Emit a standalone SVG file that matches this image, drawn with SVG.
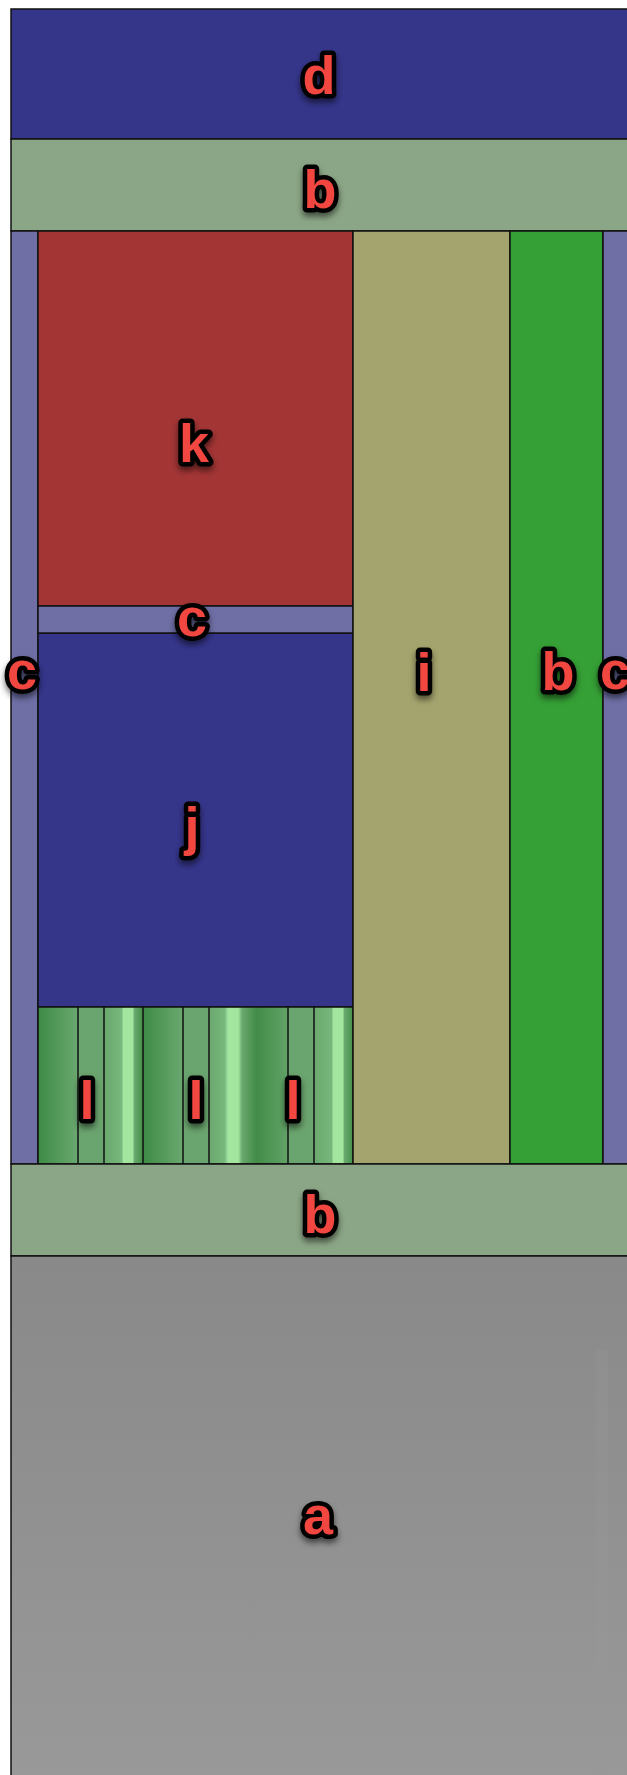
<svg xmlns="http://www.w3.org/2000/svg" width="627" height="1775" viewBox="0 0 627 1775">
<style>
.lbl{font-family:"Liberation Sans",Arial,sans-serif;font-weight:bold;font-size:54px;fill:#f2463f;stroke:#000;stroke-width:9;stroke-linejoin:round;paint-order:stroke;text-anchor:middle;filter:url(#sh)}
.bd{stroke:#111;stroke-width:1.5}
</style>
<defs>
<filter id="sh" x="-50%" y="-50%" width="200%" height="200%"><feDropShadow dx="0" dy="4" stdDeviation="3" flood-color="#000" flood-opacity="0.55"/></filter>
<linearGradient id="ga" x1="0" y1="0" x2="0" y2="1"><stop offset="0" stop-color="#898989"/><stop offset="1" stop-color="#999999"/></linearGradient>
<linearGradient id="gdark" x1="0" y1="0" x2="1" y2="0"><stop offset="0" stop-color="#3e8a45"/><stop offset="0.3" stop-color="#4b9452"/><stop offset="1" stop-color="#6aa870"/></linearGradient>
<linearGradient id="glight" x1="0" y1="0" x2="1" y2="0"><stop offset="0" stop-color="#6aa86e"/><stop offset="0.45" stop-color="#78b87c"/><stop offset="0.5" stop-color="#a2e6a0"/><stop offset="0.74" stop-color="#a2e6a0"/><stop offset="0.78" stop-color="#6aa86e"/><stop offset="1" stop-color="#44904a"/></linearGradient>
<linearGradient id="gmid" x1="0" y1="0" x2="1" y2="0"><stop offset="0" stop-color="#6aa86e"/><stop offset="0.2" stop-color="#78b87c"/><stop offset="0.24" stop-color="#a2e6a0"/><stop offset="0.37" stop-color="#a2e6a0"/><stop offset="0.42" stop-color="#6aa86e"/><stop offset="0.6" stop-color="#428c48"/><stop offset="1" stop-color="#62a268"/></linearGradient>
</defs>
<rect width="627" height="1775" fill="#fff"/>
<g id="d"><rect x="11" y="9" width="620" height="130" fill="#35358a" class="bd"/><text class="lbl" x="319" y="94">d</text></g>
<g id="b-top"><rect x="11" y="139" width="620" height="92" fill="#8ba686" class="bd"/><text class="lbl" x="320" y="208">b</text></g>
<g id="c-left"><rect x="11" y="231" width="27" height="933" fill="#6f6fa6" class="bd"/></g>
<g id="k"><rect x="38" y="231" width="315" height="375" fill="#a33535" class="bd"/><text class="lbl" x="194" y="462">k</text></g>
<g id="j"><rect x="38" y="633" width="315" height="374" fill="#35358a" class="bd"/><text class="lbl" x="192" y="845">j</text></g>
<g id="c-mid"><rect x="38" y="606" width="315" height="27" fill="#6f6fa6" class="bd"/><text class="lbl" x="192" y="636">c</text></g>
<g id="l">
<rect x="38" y="1007" width="40" height="157" fill="url(#gdark)"/>
<rect x="78" y="1007" width="26" height="157" fill="#6aa46e"/>
<rect x="104" y="1007" width="39" height="157" fill="url(#glight)"/>
<rect x="143" y="1007" width="40" height="157" fill="url(#gdark)"/>
<rect x="183" y="1007" width="26" height="157" fill="#6aa46e"/>
<rect x="209" y="1007" width="79" height="157" fill="url(#gmid)"/>
<rect x="288" y="1007" width="26" height="157" fill="#6aa46e"/>
<rect x="314" y="1007" width="39" height="157" fill="url(#glight)"/>
<g class="bd" fill="none"><rect x="38" y="1007" width="315" height="157"/><path d="M78 1007V1164M104 1007V1164M143 1007V1164M183 1007V1164M209 1007V1164M288 1007V1164M314 1007V1164"/></g>
<text class="lbl" x="87" y="1119">l</text><text class="lbl" x="196" y="1119">l</text><text class="lbl" x="293" y="1119">l</text>
</g>
<g id="i"><rect x="353" y="231" width="157" height="933" fill="#a4a46e" class="bd"/><text class="lbl" x="424" y="691">i</text></g>
<g id="b-green"><rect x="510" y="231" width="93" height="933" fill="#35a035" class="bd"/><text class="lbl" x="558" y="690">b</text></g>
<g id="c-right"><rect x="603" y="231" width="30" height="933" fill="#6f6fa6" class="bd"/><text class="lbl" x="615" y="689">c</text></g>
<text class="lbl" x="22" y="689">c</text>
<g id="b-bottom"><rect x="11" y="1164" width="620" height="92" fill="#8ba686" class="bd"/><text class="lbl" x="320" y="1233">b</text></g>
<g id="a"><rect x="11" y="1256" width="620" height="530" fill="url(#ga)" class="bd"/><rect x="596" y="1350" width="12" height="425" fill="#999" opacity="0.3"/><text class="lbl" x="318" y="1534">a</text></g>
</svg>
